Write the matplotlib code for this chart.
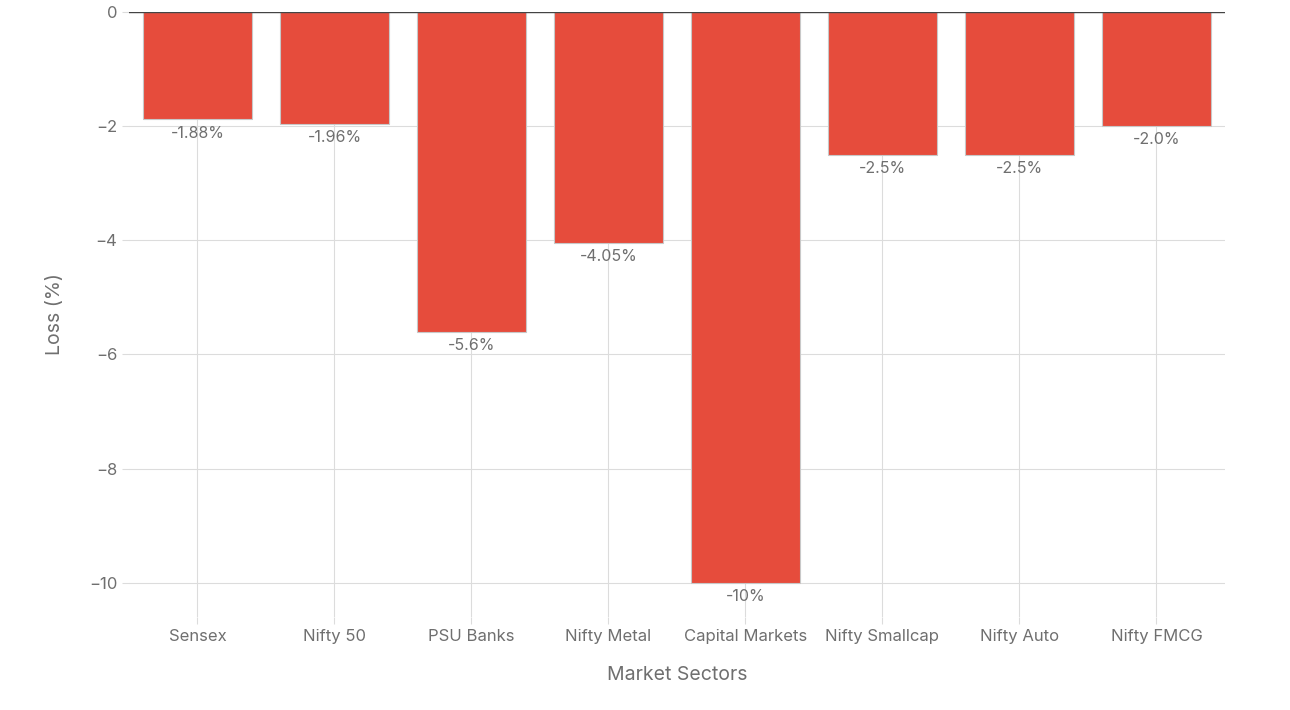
import matplotlib
matplotlib.use("Agg")
import matplotlib.pyplot as plt
import numpy as np

sectors = ["Sensex", "Nifty 50", "PSU Banks", "Nifty Metal", "Capital Markets",
           "Nifty Smallcap", "Nifty Auto", "Nifty FMCG"]
loss = [-1.88, -1.96, -5.6, -4.05, -10, -2.5, -2.5, -2.0]
labels = ["-1.88%", "-1.96%", "-5.6%", "-4.05%", "-10%", "-2.5%", "-2.5%", "-2.0%"]

plt.rcParams['font.family'] = ['Inter', 'DejaVu Sans']
grey = "#6f6f6f"

fig = plt.figure(figsize=(12.9, 7.1), dpi=100)
ax = fig.add_axes([0.1, 0.131, 0.8496, 0.852])

x = np.arange(len(sectors))
ax.bar(x, loss, width=0.8, color="#E64C3C", edgecolor="#c8c8c8", linewidth=0.8, zorder=2)
for xi, v, t in zip(x, loss, labels):
    ax.annotate(t, (xi, v), xytext=(0, -4.5), textcoords="offset points",
                ha="center", va="top", fontsize=11.5, color=grey, zorder=3)

ax.set_xlim(-0.5, len(sectors) - 0.5)
ax.set_ylim(-10.6, 0)
ax.set_yticks([0, -2, -4, -6, -8, -10])
ax.set_xticks(x)
ax.set_xticklabels(sectors)
ax.grid(True, color="#dcdcdc", linewidth=0.8, zorder=0)
ax.axhline(0, color="#444444", linewidth=1.0, zorder=3)
for s in ax.spines.values():
    s.set_visible(False)
ax.tick_params(axis="both", colors="#dcdcdc", labelcolor=grey, labelsize=12, length=5)
ax.set_xlabel("Market Sectors", fontsize=14, color=grey, labelpad=16)
ax.set_ylabel("Loss (%)", fontsize=14, color=grey, labelpad=18)

fig.savefig("out.png", dpi=100, facecolor="white")
